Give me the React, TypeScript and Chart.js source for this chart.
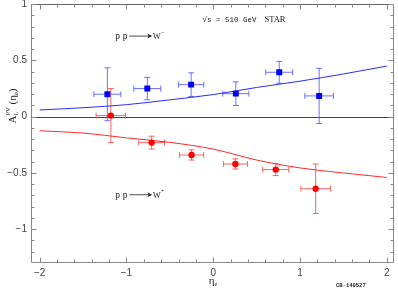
import React, { useEffect, useRef } from "react";
import { Chart, registerables } from "chart.js";
Chart.register(...registerables);

// W- (blue) data
const etaMinus = [-1.22, -0.76, -0.255, 0.26, 0.76, 1.22];
const asymMinus = [0.2, 0.25, 0.285, 0.205, 0.395, 0.185];
const yErrMinus = [0.235, 0.1, 0.105, 0.105, 0.097, 0.245];
const xErrMinus = [0.155, 0.155, 0.145, 0.15, 0.155, 0.165];

// W+ (red) data
const etaPlus = [-1.18, -0.71, -0.25, 0.255, 0.72, 1.18];
const asymPlus = [0.01, -0.23, -0.34, -0.42, -0.47, -0.64];
const yErrPlus = [0.24, 0.057, 0.045, 0.045, 0.053, 0.22];
const xErrPlus = [0.17, 0.148, 0.14, 0.138, 0.15, 0.17];

// theory curves
const curveEta = [-2, -1.5, -1, -0.5, 0, 0.5, 1, 1.5, 2];
const curveMinus = [0.06, 0.08, 0.107, 0.15, 0.197, 0.26, 0.316, 0.38, 0.45];
const curvePlus = [-0.125, -0.145, -0.188, -0.228, -0.288, -0.385, -0.455, -0.5, -0.54];

const xTicks = [-2, -1, 0, 1, 2];
const yTicks = [-1, -0.5, 0, 0.5, 1];
const xMinor = [-2, -1.8, -1.6, -1.4, -1.2, -1, -0.8, -0.6, -0.4, -0.2, 0, 0.2, 0.4, 0.6, 0.8, 1, 1.2, 1.4, 1.6, 1.8, 2];
const yMinor = [-1.2, -1.1, -1, -0.9, -0.8, -0.7, -0.6, -0.5, -0.4, -0.3, -0.2, -0.1, 0, 0.1, 0.2, 0.3, 0.4, 0.5, 0.6, 0.7, 0.8, 0.9, 1];

const fmt = (v: number) => (v < 0 ? "\u2212" + String(-v) : String(v));

type Part = { text: string; font: string; dy?: number; adv?: boolean };
function drawParts(ctx: CanvasRenderingContext2D, parts: Part[], x: number, y: number, center = false) {
  let total = 0;
  for (const p of parts) {
    ctx.font = p.font;
    if (p.adv !== false) total += ctx.measureText(p.text).width;
  }
  let cx = center ? x - total / 2 : x;
  for (const p of parts) {
    ctx.font = p.font;
    ctx.fillText(p.text, cx, y + (p.dy || 0));
    if (p.adv !== false) cx += ctx.measureText(p.text).width;
  }
}

const SERIF = '"Liberation Serif", "DejaVu Serif", serif';
const MONO = '"Liberation Mono", "DejaVu Sans Mono", monospace';
const SANS = '"Liberation Sans", Arial, sans-serif';

function drawReaction(ctx: CanvasRenderingContext2D, x: number, y: number, sign: string) {
  ctx.fillStyle = "#222";
  ctx.strokeStyle = "#222";
  ctx.font = "9.5px " + SERIF;
  ctx.textAlign = "left";
  ctx.textBaseline = "alphabetic";
  ctx.fillText("p", x, y);
  ctx.fillText("p", x + 7.5, y);
  const a0 = x + 14, a1 = x + 37;
  ctx.lineWidth = 0.8;
  ctx.beginPath();
  ctx.moveTo(a0, y - 3);
  ctx.lineTo(a1 - 2, y - 3);
  ctx.stroke();
  ctx.beginPath();
  ctx.moveTo(a1, y - 3);
  ctx.lineTo(a1 - 5, y - 5.5);
  ctx.lineTo(a1 - 3.5, y - 3);
  ctx.lineTo(a1 - 5, y - 0.5);
  ctx.closePath();
  ctx.fill();
  ctx.font = "8.5px " + SERIF;
  ctx.fillText("W", a1 + 0.5, y);
  ctx.font = "6px " + SERIF;
  ctx.fillText(sign, a1 + 8.5, y - 5);
}

const decor = {
  id: "decor",
  beforeDatasetsDraw(chart: any) {
    const { ctx, chartArea: a, scales } = chart;
    const xs = scales.x, ys = scales.y;
    ctx.save();
    const y0 = Math.round(ys.getPixelForValue(0)) + 0.5;
    ctx.strokeStyle = "#444";
    ctx.lineWidth = 1;
    ctx.beginPath();
    ctx.moveTo(a.left, y0);
    ctx.lineTo(a.right, y0);
    ctx.stroke();
    const drawErr = (ex: number[], ey: number[], exe: number[], eye: number[], color: string) => {
      ctx.strokeStyle = color;
      ctx.lineWidth = 1;
      const cap = 3;
      for (let i = 0; i < ex.length; i++) {
        const px = xs.getPixelForValue(ex[i]);
        const py = ys.getPixelForValue(ey[i]);
        const pt = ys.getPixelForValue(ey[i] + eye[i]);
        const pb = ys.getPixelForValue(ey[i] - eye[i]);
        const pl = xs.getPixelForValue(ex[i] - exe[i]);
        const pr = xs.getPixelForValue(ex[i] + exe[i]);
        ctx.beginPath();
        ctx.moveTo(px, pt); ctx.lineTo(px, pb);
        ctx.moveTo(px - cap, pt); ctx.lineTo(px + cap, pt);
        ctx.moveTo(px - cap, pb); ctx.lineTo(px + cap, pb);
        ctx.moveTo(pl, py); ctx.lineTo(pr, py);
        ctx.moveTo(pl, py - cap); ctx.lineTo(pl, py + cap);
        ctx.moveTo(pr, py - cap); ctx.lineTo(pr, py + cap);
        ctx.stroke();
      }
    };
    drawErr(etaMinus, asymMinus, xErrMinus, yErrMinus, "rgba(70,80,255,0.8)");
    drawErr(etaPlus, asymPlus, xErrPlus, yErrPlus, "rgba(255,70,70,0.85)");
    ctx.restore();
  },
  afterDraw(chart: any) {
    const { ctx, chartArea: a, scales } = chart;
    const xs = scales.x, ys = scales.y;
    ctx.save();
    ctx.lineWidth = 1;
    ctx.strokeStyle = "#888";
    const L = Math.round(a.left) + 0.5, R = Math.round(a.right) - 0.5;
    const T = Math.round(a.top) + 0.5, B = Math.round(a.bottom) - 0.5;
    ctx.beginPath();
    ctx.moveTo(L, T); ctx.lineTo(L, B); ctx.lineTo(R, B); ctx.lineTo(R, T);
    ctx.stroke();
    ctx.strokeStyle = "#666";
    ctx.beginPath();
    ctx.moveTo(L, T); ctx.lineTo(R, T);
    ctx.stroke();
    ctx.strokeStyle = "#888";
    ctx.beginPath();
    for (const v of xMinor) {
      const px = Math.round(xs.getPixelForValue(v)) + 0.5;
      const len = xTicks.includes(v) ? 5 : 3;
      ctx.moveTo(px, B); ctx.lineTo(px, B - len);
      ctx.moveTo(px, T); ctx.lineTo(px, T + len);
    }
    for (const v of yMinor) {
      const py = Math.round(ys.getPixelForValue(v)) + 0.5;
      const len = yTicks.includes(v) ? 5 : 3;
      ctx.moveTo(L, py); ctx.lineTo(L + len, py);
      ctx.moveTo(R, py); ctx.lineTo(R - len, py);
    }
    ctx.stroke();

    // y tick labels
    ctx.fillStyle = "#444";
    ctx.font = "10px " + SANS;
    ctx.textAlign = "right";
    ctx.textBaseline = "middle";
    for (const v of yTicks) {
      ctx.fillText(fmt(v), a.left - 4, Math.max(ys.getPixelForValue(v), 4));
    }

    ctx.fillStyle = "#222";
    ctx.textAlign = "left";
    ctx.textBaseline = "alphabetic";
    drawReaction(ctx, xs.getPixelForValue(-1.13), ys.getPixelForValue(0.69), "\u2212");
    drawReaction(ctx, xs.getPixelForValue(-1.13), ys.getPixelForValue(-0.72), "+");

    ctx.fillStyle = "#222";
    ctx.font = "7.5px " + MONO;
    const sx = xs.getPixelForValue(-0.125);
    const sy = ys.getPixelForValue(0.845);
    ctx.fillText("\u221As = 510 GeV", sx, sy);
    ctx.font = "8.5px " + SERIF;
    ctx.fillText("STAR", sx + 62, sy);

    drawParts(ctx, [
      { text: "\u03B7", font: "11px " + SERIF },
      { text: "e", font: "6px " + SERIF, dy: 2 },
    ], 213, 284, true);

    ctx.font = "bold 5.5px " + MONO;
    ctx.fillText("CB-140527", 336, 287);

    ctx.save();
    ctx.translate(16, 106);
    ctx.rotate(-Math.PI / 2);
    drawParts(ctx, [
      { text: "A", font: "11px " + SERIF },
      { text: "PV", font: "6.5px " + SERIF, dy: -6, adv: false },
      { text: "L ", font: "6.5px " + SERIF, dy: 2 },
      { text: "  (", font: "11px " + SERIF },
      { text: "\u03B7", font: "11px " + SERIF },
      { text: "e", font: "6.5px " + SERIF, dy: 2 },
      { text: ")", font: "11px " + SERIF },
    ], 0, 0, true);
    ctx.restore();

    ctx.restore();
  },
};

export default function App() {
  const ref = useRef<HTMLCanvasElement | null>(null);
  useEffect(() => {
    if (!ref.current) return;
    const toPts = (xv: number[], yv: number[]) => xv.map((x, i) => ({ x, y: yv[i] }));
    const chart = new Chart(ref.current, {
      type: "scatter",
      data: {
        datasets: [
          {
            data: toPts(etaMinus, asymMinus),
            pointStyle: "rect",
            pointRadius: 4.2,
            backgroundColor: "#0000f0",
            borderColor: "#0000f0",
            borderWidth: 0,
          },
          {
            data: toPts(etaPlus, asymPlus),
            pointStyle: "circle",
            pointRadius: 3.2,
            backgroundColor: "#ff0000",
            borderColor: "#ff0000",
            borderWidth: 0,
          },
          {
            data: toPts(curveEta, curveMinus),
            showLine: true,
            pointRadius: 0,
            borderColor: "#2a2aff",
            borderWidth: 1,
            cubicInterpolationMode: "monotone",
          },
          {
            data: toPts(curveEta, curvePlus),
            showLine: true,
            pointRadius: 0,
            borderColor: "#ff2a2a",
            borderWidth: 1,
            cubicInterpolationMode: "monotone",
          },
        ] as any,
      },
      options: {
        animation: false,
        responsive: false,
        devicePixelRatio: 1,
        layout: { padding: { top: 3, right: 2, left: 0, bottom: 0 } },
        plugins: { legend: { display: false }, tooltip: { enabled: false } },
        scales: {
          x: {
            type: "linear",
            min: -2.1,
            max: 2.08,
            grid: { display: false, drawTicks: false },
            border: { display: false },
            afterBuildTicks: (s: any) => { s.ticks = xTicks.map((v) => ({ value: v })); },
            afterFit: (s: any) => { s.height = 27; s.paddingLeft = 0; s.paddingRight = 0; s.paddingTop = 0; s.paddingBottom = 0; },
            ticks: {
              padding: 4,
              color: "#444",
              font: { family: SANS, size: 10 },
              callback: (v: any) => fmt(Number(v)),
              maxRotation: 0,
              autoSkip: false,
            },
          },
          y: {
            type: "linear",
            min: -1.3,
            max: 1,
            grid: { display: false, drawTicks: false },
            border: { display: false },
            afterBuildTicks: (s: any) => { s.ticks = yTicks.map((v) => ({ value: v })); },
            afterFit: (s: any) => { s.width = 31; s.paddingTop = 0; s.paddingBottom = 0; s.paddingLeft = 0; s.paddingRight = 0; },
            ticks: { display: false },
          },
        },
      },
      plugins: [decor],
    });
    return () => chart.destroy();
  }, []);
  return (
    <div style={{ position: "fixed", left: 0, top: 0, width: 398, height: 290, background: "#fff" }}>
      <canvas ref={ref} width={398} height={290} style={{ width: 398, height: 290, display: "block" }} />
    </div>
  );
}
